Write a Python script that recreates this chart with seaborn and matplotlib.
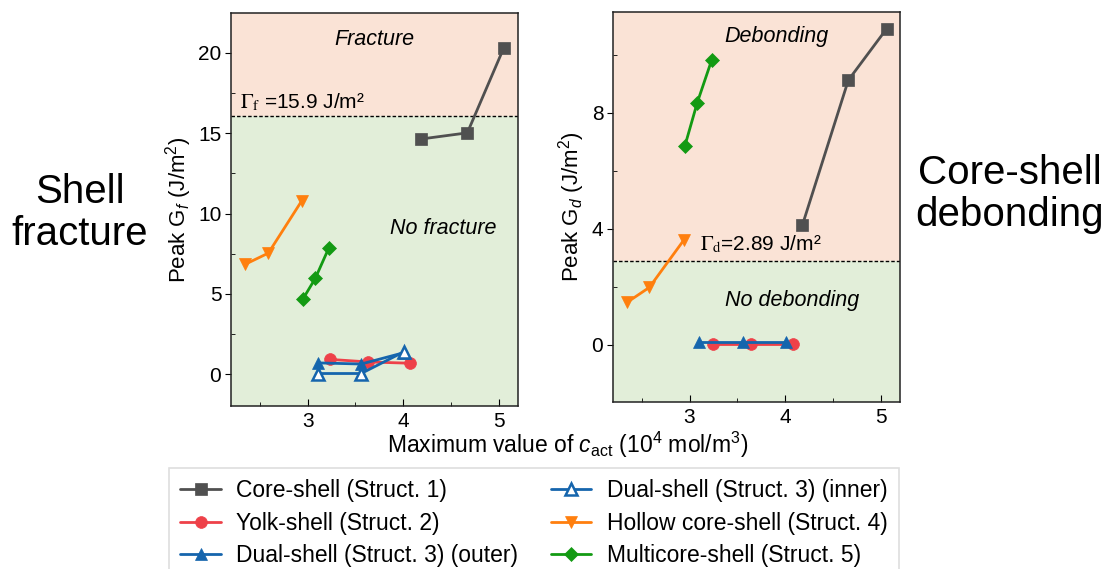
import numpy as np
import pandas as pd
import matplotlib
matplotlib.use('Agg')
import matplotlib.pyplot as plt
from matplotlib.ticker import MultipleLocator
import seaborn as sns

# 최대 c_act 값 (10^4 mol/m^3) 과 peak G_f / G_d 값
core_x_f = [4.19, 4.67, 5.05]
core_y_f = [14.64, 15.02, 20.29]
yolk_x_f = [3.23, 3.63, 4.07]
yolk_y_f = [0.93, 0.77, 0.69]
outer_x_f = [3.11, 3.56, 4.01]
outer_y_f = [0.71, 0.64, 1.35]
inner_x_f = [3.11, 3.56, 4.01]
inner_y_f = [0.05, 0.05, 1.41]
hollow_x_f = [2.35, 2.59, 2.94]
hollow_y_f = [6.85, 7.54, 10.80]
multi_x_f = [2.95, 3.08, 3.22]
multi_y_f = [4.67, 5.96, 7.83]

core_x_d = [4.18, 4.66, 5.06]
core_y_d = [4.13, 9.12, 10.89]
yolk_x_d = [3.24, 3.64, 4.08]
yolk_y_d = [0.03, 0.03, 0.03]
outer_x_d = [3.10, 3.56, 4.01]
outer_y_d = [0.10, 0.10, 0.10]
hollow_x_d = [2.35, 2.58, 2.94]
hollow_y_d = [1.47, 1.98, 3.61]
multi_x_d = [2.95, 3.08, 3.23]
multi_y_d = [6.84, 8.34, 9.80]

gamma_f = 16.05
gamma_d = 2.90

labels = ['Core-shell (Struct. 1)', 'Yolk-shell (Struct. 2)',
          'Dual-shell (Struct. 3) (outer)', 'Dual-shell (Struct. 3) (inner)',
          'Hollow core-shell (Struct. 4)', 'Multicore-shell (Struct. 5)']

sns.set_style('ticks')
plt.rcParams['font.family'] = ['Liberation Sans', 'DejaVu Sans']
plt.rcParams['mathtext.fontset'] = 'custom'
plt.rcParams['mathtext.rm'] = 'Liberation Sans'
plt.rcParams['mathtext.it'] = 'Liberation Sans:italic'
for k in ['text.color', 'axes.labelcolor', 'xtick.color', 'ytick.color']:
    plt.rcParams[k] = 'black'

c_core = '#505050'
c_yolk = '#EE4149'
c_blue = '#1565AD'
c_hollow = '#FF7F0E'
c_multi = '#139A13'
c_peach = '#FAE3D6'
c_green = '#E2EED9'

fig = plt.figure(figsize=(11.14, 5.69), dpi=100)
ax1 = fig.add_axes([0.2074, 0.2865, 0.2576, 0.6905])
ax2 = fig.add_axes([0.5503, 0.2935, 0.2576, 0.6855])


def draw(ax, x, y, color, marker, label, hollow=False, ms=8):
    kw = dict(color=color, marker=marker, markersize=ms, linewidth=2.0,
              markeredgecolor=color, label=label)
    if hollow:
        kw['markerfacecolor'] = 'white'
        kw['markeredgewidth'] = 1.8
    else:
        kw['markerfacecolor'] = color
        kw['markeredgewidth'] = 0.5
    sns.lineplot(x=x, y=y, ax=ax, sort=False, estimator=None, **kw)


# 왼쪽: shell fracture
draw(ax1, core_x_f, core_y_f, c_core, 's', labels[0])
draw(ax1, yolk_x_f, yolk_y_f, c_yolk, 'o', labels[1], ms=8.5)
draw(ax1, outer_x_f, outer_y_f, c_blue, '^', labels[2], ms=8.5)
draw(ax1, inner_x_f, inner_y_f, c_blue, '^', labels[3], hollow=True, ms=8.5)
draw(ax1, hollow_x_f, hollow_y_f, c_hollow, 'v', labels[4], ms=8.5)
draw(ax1, multi_x_f, multi_y_f, c_multi, 'D', labels[5], ms=7.5)

# 오른쪽: core-shell debonding
draw(ax2, core_x_d, core_y_d, c_core, 's', labels[0])
draw(ax2, yolk_x_d, yolk_y_d, c_yolk, 'o', labels[1], ms=8.5)
draw(ax2, outer_x_d, outer_y_d, c_blue, '^', labels[2], ms=8.5)
draw(ax2, hollow_x_d, hollow_y_d, c_hollow, 'v', labels[4], ms=8.5)
draw(ax2, multi_x_d, multi_y_d, c_multi, 'D', labels[5], ms=7.5)

for ax, ylim, thr, major in [(ax1, (-1.97, 22.47), gamma_f, 5),
                             (ax2, (-1.97, 11.47), gamma_d, 4)]:
    ax.set_xlim(2.2, 5.2)
    ax.set_ylim(*ylim)
    ax.axhspan(thr, ylim[1], color=c_peach, zorder=0, lw=0)
    ax.axhspan(ylim[0], thr, color=c_green, zorder=0, lw=0)
    ax.axhline(thr, color='black', lw=1.0, ls=(0, (2.5, 1.5)), zorder=1)
    ax.xaxis.set_major_locator(MultipleLocator(1))
    ax.xaxis.set_minor_locator(MultipleLocator(0.5))
    ax.yaxis.set_major_locator(MultipleLocator(major))
    ax.yaxis.set_minor_locator(MultipleLocator(major, offset=major / 2))
    ax.tick_params(axis='x', which='major', direction='in', length=5,
                   labelsize=15, pad=4)
    ax.tick_params(axis='x', which='minor', direction='in', length=3)
    ax.tick_params(axis='y', which='major', direction='out', length=4,
                   labelsize=15, pad=3)
    ax.tick_params(axis='y', which='minor', direction='in', length=3)
    for s in ax.spines.values():
        s.set_color('#222222')
        s.set_linewidth(1.1)
    ax.set_xlabel('')
    if ax.get_legend() is not None:
        ax.get_legend().remove()

ax1.set_ylabel('Peak G$_f$ (J/m$^2$)', fontsize=16, labelpad=3)
ax2.set_ylabel('Peak G$_d$ (J/m$^2$)', fontsize=16, labelpad=3)

# 영역 라벨
ax1.text(0.5, 0.934, 'Fracture', transform=ax1.transAxes, ha='center',
         va='center', fontsize=15.5, style='italic')
ax1.text(0.739, 0.452, 'No fracture', transform=ax1.transAxes, ha='center',
         va='center', fontsize=15.5, style='italic')
ax2.text(0.568, 0.936, 'Debonding', transform=ax2.transAxes, ha='center',
         va='center', fontsize=15.5, style='italic')
ax2.text(0.624, 0.26, 'No debonding', transform=ax2.transAxes, ha='center',
         va='center', fontsize=15.5, style='italic')

ax1.text(2.29, gamma_f + 0.5, r'$\Gamma_\mathrm{f}$ =15.9 J/m²', fontsize=15,
         math_fontfamily='stix', va='baseline', ha='left')
ax2.text(3.11, gamma_d + 0.34, r'$\Gamma_\mathrm{d}$=2.89 J/m²', fontsize=15,
         math_fontfamily='stix', va='baseline', ha='left')

fig.text(568 / 1114, 1 - 445 / 569,
         r'Maximum value of $c_\mathrm{act}$ (10$^4$ mol/m$^3$)',
         ha='center', va='center', fontsize=16.5)

fig.text(80 / 1114, 1 - 213 / 569, 'Shell\nfracture', ha='center', va='center',
         fontsize=29, linespacing=1.15)
fig.text(1010 / 1114, 1 - 194 / 569, 'Core-shell\ndebonding', ha='center',
         va='center', fontsize=29, linespacing=1.15)

handles, lbls = ax1.get_legend_handles_labels()
leg = fig.legend(handles, lbls, loc='upper left', ncol=2,
                 bbox_to_anchor=(169 / 1114, 1 - 468 / 569), fontsize=16.5,
                 frameon=True, fancybox=False, edgecolor='#D6D6D6',
                 handlelength=1.75, handletextpad=0.68, columnspacing=1.45,
                 labelspacing=0.4, borderpad=0.5, borderaxespad=0)
leg.get_frame().set_linewidth(1.2)

fig.savefig('out.png', dpi=100)
